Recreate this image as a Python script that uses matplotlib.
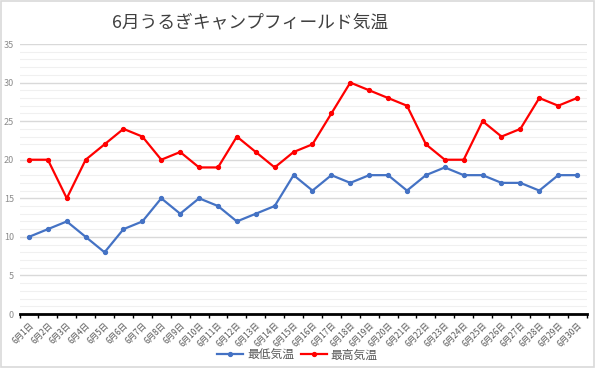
import matplotlib
matplotlib.use("Agg")
import matplotlib.pyplot as plt
from matplotlib.patches import Rectangle
from matplotlib.ticker import MultipleLocator, FixedLocator

plt.rcParams['font.family'] = ['Noto Sans CJK JP', 'DejaVu Sans']

days = [f"6月{i}日" for i in range(1, 31)]
min_temp = [10, 11, 12, 10, 8, 11, 12, 15, 13, 15, 14, 12, 13, 14, 18,
            16, 18, 17, 18, 18, 16, 18, 19, 18, 18, 17, 17, 16, 18, 18]
max_temp = [20, 20, 15, 20, 22, 24, 23, 20, 21, 19, 19, 23, 21, 19, 21,
            22, 26, 30, 29, 28, 27, 22, 20, 20, 25, 23, 24, 28, 27, 28]
title = "6月うるぎキャンプフィールド気温"
series_names = ["最低気温", "最高気温"]

fig = plt.figure(figsize=(5.95, 3.68), dpi=100)
ax = fig.add_axes([0.0328, 0.1467, 0.953, 0.7337])

x = list(range(len(days)))
ax.plot(x, min_temp, color="#4472C4", lw=1.6, marker="o", ms=2.8, label=series_names[0], zorder=3)
ax.plot(x, max_temp, color="#FF0000", lw=1.6, marker="o", ms=2.8, label=series_names[1], zorder=3)

ax.set_xlim(-0.5, len(days) - 0.5)
ax.set_ylim(0, 35)
ax.yaxis.set_major_locator(MultipleLocator(5))
ax.yaxis.set_minor_locator(MultipleLocator(1))
ax.grid(which="major", axis="y", color="#D9D9D9", lw=1.0)
ax.grid(which="minor", axis="y", color="#F0F0F0", lw=0.8)
ax.set_axisbelow(True)

for s in ["top", "right", "left"]:
    ax.spines[s].set_visible(False)
ax.spines["bottom"].set_color("black")
ax.spines["bottom"].set_linewidth(2)

ax.set_xticks(x)
ax.set_xticklabels(days, rotation=45, ha="right", rotation_mode="anchor",
                   fontsize=6, color="#595959")
ax.tick_params(axis="x", which="major", length=0, pad=5)
ax.xaxis.set_minor_locator(FixedLocator([i - 0.5 for i in range(len(days) + 1)]))
ax.tick_params(axis="x", which="minor", length=3, width=1, color="black", direction="out")
ax.tick_params(axis="y", which="both", length=0, labelsize=6.5, labelcolor="#8C8C8C", pad=4)

fig.text(0.42, 0.94, title, ha="center", va="center", fontsize=12.8, color="#404040")

fig.legend(loc="center", bbox_to_anchor=(0.5, 0.035), ncol=2, frameon=False,
           fontsize=8.5, labelcolor="#595959", handlelength=2.2, columnspacing=0.6,
           handletextpad=0.3)

fig.patches.append(Rectangle((0.002, 0.003), 0.996, 0.994, transform=fig.transFigure,
                             fill=False, edgecolor="#D9D9D9", lw=1.2))

fig.savefig("out.png", dpi=100)
